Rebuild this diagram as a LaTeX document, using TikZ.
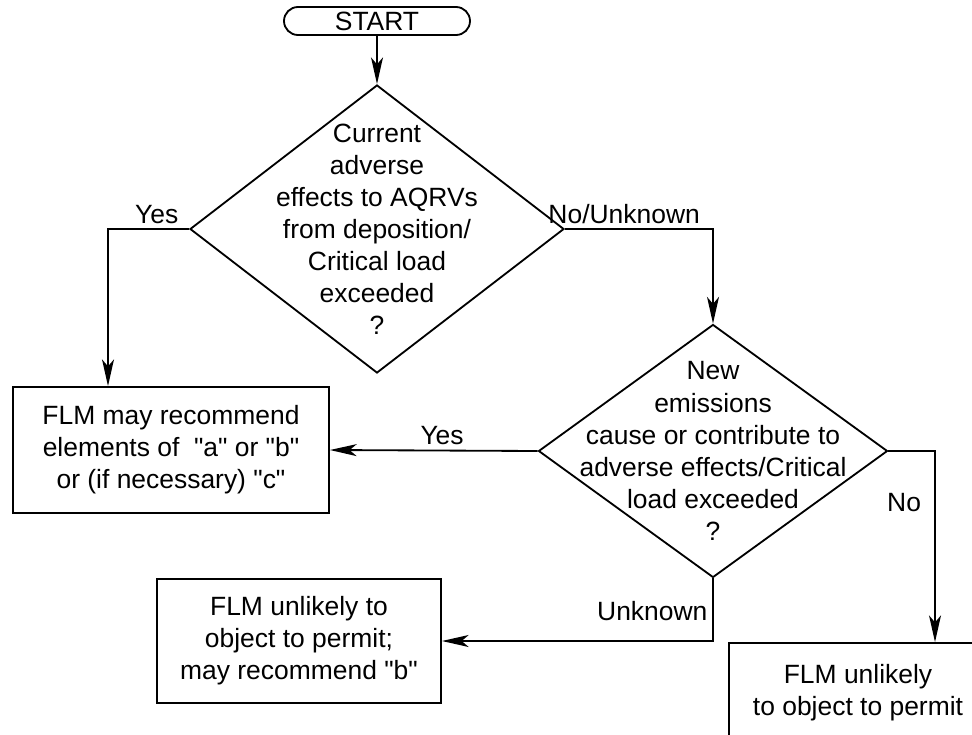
\documentclass[tikz,border=0pt]{standalone}
\usepackage{fontspec}
\setmainfont{Liberation Sans}
\usetikzlibrary{shapes.geometric,arrows.meta}
\newcommand{\qt}[1]{\textquotedbl#1\textquotedbl}

\begin{document}
\begin{tikzpicture}[
    line width=1.3pt,
    font=\fontsize{18.8}{22.8}\selectfont,
    box/.style={draw, align=center, inner sep=0pt},
    decision/.style={draw, diamond, inner sep=0pt},
    question/.style={label={[align=center]center:#1}}]
  \tikzset{flow/.style={-{Stealth[length=19pt,width=8.5pt,inset=5pt]}}}
  \useasboundingbox (0,0) rectangle (24.3,-18.35);
  \node [box, rounded corners=0.35cm, minimum width=4.65cm, minimum height=0.7cm]
    (1) at (9.425,-0.525) {START};
  \node [decision, minimum width=9.35cm, minimum height=7.2cm,
    question={Current\\adverse\\effects to AQRVs\\from deposition/\\Critical load\\exceeded\\?}]
    (2) at (9.425,-5.725) {};
  \node [box, minimum width=7.9cm, minimum height=3.15cm] (3) at (4.275,-11.25)
    {FLM may recommend\\elements of \ \qt{a} or \qt{b}\\or (if necessary) \qt{c}};
  \node [decision, minimum width=8.725cm, minimum height=6.325cm,
    question={New\\emissions\\cause or contribute to\\adverse effects/Critical\\load exceeded\\?}]
    (4) at (17.825,-11.275) {};
  \node [box, minimum width=7.1cm, minimum height=3.1cm] (5) at (7.475,-16.025)
    {FLM unlikely to\\object to permit;\\may recommend \qt{b}};
  \node [box, minimum width=6.45cm, minimum height=2.5cm] (6) at (21.45,-17.325)
    {FLM unlikely\\to object to permit};
  \draw [ flow ] (1) -- (2);
  \draw [ flow ] (2.west) -| node [above, pos=0.2] {Yes} ([xshift=-1.575cm]3.north);
  \draw [ flow ] (2.east) -| node [above, pos=0.2] {No/Unknown} (4.north);
  \draw [ flow ] (4.west) -- node [above, pos=0.46] {Yes} (3.east);
  \draw [ flow ] (4.east) -| node [left=6pt, pos=0.635] {No} ([xshift=1.925cm]6.north);
  \draw [ flow ] (4.south) |- node [left, pos=0.26] {Unknown} (5.east);
\end{tikzpicture}
\end{document}
